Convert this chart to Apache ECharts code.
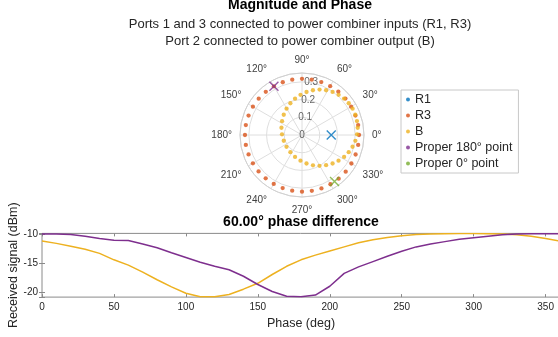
<!DOCTYPE html>
<html><head><meta charset="utf-8">
<script src="https://cdn.jsdelivr.net/npm/echarts@6.0.0/dist/echarts.min.js"></script>
<style>html,body{margin:0;padding:0;background:#fff}#c{width:558px;height:337px}</style>
</head><body><div id="c"></div>
<script>
// ---- data ----
const legendNames = ['R1', 'R3', 'B', 'Proper 180° point', 'Proper 0° point'];
const r1Point = [0.165, 0];            // [radius, angle deg]
const proper180Point = [0.317, 120];
const proper0Point = [0.32, 305];
const r3Angle = [0,10,20,30,40,50,60,70,80,90,100,110,120,130,140,150,160,170,180,190,200,210,220,230,240,250,260,270,280,290,300,310,320,330,340,350];
const r3Radius = [0.322,0.322,0.321,0.320,0.320,0.319,0.318,0.318,0.317,0.317,0.317,0.317,0.317,0.318,0.319,0.320,0.321,0.322,0.322,0.322,0.321,0.320,0.320,0.319,0.319,0.319,0.319,0.320,0.320,0.321,0.321,0.322,0.322,0.322,0.322,0.322];
const bAngle = [7.4,14.2,20.8,27.5,34.2,40.9,47.7,54.6,61.7,68.9,76.3,84.0,92.1,100.8,110.1,120.4,132.0,145.2,160.5,178.1,197.5,217.3,235.9,252.4,266.6,279.0,289.9,299.6,308.6,317.0,324.9,332.5,339.8,346.9,353.8,0.7];
const bRadius = [0.317,0.320,0.322,0.322,0.319,0.314,0.307,0.298,0.287,0.275,0.260,0.244,0.227,0.209,0.191,0.172,0.154,0.137,0.123,0.113,0.108,0.110,0.117,0.130,0.145,0.163,0.182,0.200,0.218,0.236,0.252,0.268,0.281,0.293,0.303,0.311];
const radiusTickLabels = [0, 0.1, 0.2, 0.3];

const phaseDeg = [0,10,20,30,40,50,60,70,80,90,100,110,120,130,140,150,160,170,180,190,200,210,220,230,240,250,260,270,280,290,300,310,320,330,340,350,360];
const yellowDbm = [-11.2,-11.6,-12.1,-12.6,-13.3,-14.4,-15.3,-16.5,-17.8,-19.0,-20.1,-20.7,-20.7,-20.3,-19.4,-18.4,-16.9,-15.5,-14.4,-13.6,-12.9,-12.2,-11.5,-11.0,-10.6,-10.3,-10.1,-10.0,-9.95,-9.92,-9.92,-9.95,-10.0,-10.15,-10.4,-10.75,-11.2];
const purpleDbm = [-10.0,-10.0,-10.1,-10.4,-10.75,-11.05,-11.1,-11.7,-12.35,-13.2,-14.0,-14.8,-15.5,-16.1,-17.2,-18.6,-19.8,-20.6,-20.7,-20.4,-18.9,-16.7,-15.6,-14.7,-13.8,-12.95,-12.2,-11.7,-11.3,-10.9,-10.65,-10.4,-10.15,-10.0,-9.95,-9.95,-9.95];

// ---- chart ----
const FONT = '"Liberation Sans", Arial, Helvetica, sans-serif';
const TXT = '#262626';
const GRID = '#dedede';
const AX = '#8a8a8a';
const COLORS = {R1:'#0072BD', R3:'#D95319', B:'#EDB120', P:'#7E2F8E', G:'#77AC30'};
const xPath = 'path://M0,0L10,10M10,0L0,10';

const chart = echarts.init(document.getElementById('c'), null, {renderer:'canvas'});

function xMarker(name, pt, color) {
  return {name, type:'scatter', coordinateSystem:'polar', data:[pt], symbol:xPath, symbolSize:9,
    itemStyle:{color:color, borderColor:color, borderWidth:1.4}, z:5};
}
function dots(name, radii, angles, color) {
  return {name, type:'scatter', coordinateSystem:'polar',
    data: radii.map((r,i)=>[r, angles[i]]), symbol:'circle', symbolSize:4.3,
    itemStyle:{color:color}, z:3};
}

const titleStyle = (size, bold) => ({fontSize:size, fontWeight:bold?'bold':'normal', color: bold?'#000':TXT, fontFamily:FONT});

const option = {
  animation:false,
  textStyle:{fontFamily:FONT},
  title:[
    {text:'Magnitude and Phase', left:300, top:-2, textAlign:'center', padding:0, textStyle:titleStyle(14,true)},
    {text:'Ports 1 and 3 connected to power combiner inputs (R1, R3)', left:300, top:18, textAlign:'center', padding:0, textStyle:titleStyle(13,false)},
    {text:'Port 2 connected to power combiner output (B)', left:300, top:35, textAlign:'center', padding:0, textStyle:titleStyle(13,false)},
    {text:'60.00° phase difference', left:301, top:215, textAlign:'center', padding:0, textStyle:titleStyle(14,true)}
  ],
  polar:{center:[302,135], radius:62},
  angleAxis:{type:'value', min:0, max:360, interval:30, startAngle:0, clockwise:false,
    axisLine:{show:true, lineStyle:{color:'#d0d0d0', width:1}},
    axisTick:{show:false},
    splitLine:{show:true, lineStyle:{color:GRID, width:1}},
    axisLabel:{fontSize:10, color:'#404040', margin:8, fontFamily:FONT, formatter:v => v>=360 ? '' : v + '°'}},
  radiusAxis:{type:'value', min:0, max:0.35, interval:0.1,
    axisLine:{show:false}, axisTick:{show:false}, axisLabel:{show:false},
    splitLine:{show:true, lineStyle:{color:GRID, width:1}}},
  legend:{data:legendNames, orient:'vertical', left:401, top:90, padding:[3,6,3,5], itemGap:3,
    itemWidth:4, itemHeight:4, icon:'circle', borderColor:'#c8c8c8', borderWidth:1, backgroundColor:'#fff',
    itemStyle:{borderWidth:0},
    textStyle:{fontSize:12.5, lineHeight:13, color:TXT, fontFamily:FONT}},
  grid:{left:42, top:233.4, width:518, height:63.7, outerBoundsMode:'none', containLabel:false,
    show:true, borderColor:AX, borderWidth:1, backgroundColor:'transparent'},
  xAxis:[
    {type:'value', min:0, max:360, interval:50, position:'bottom',
     axisLine:{show:false}, splitLine:{show:false},
     axisTick:{show:true, inside:true, length:3, lineStyle:{color:AX}},
     axisLabel:{fontSize:10, color:TXT, margin:5, formatter:v => (v%50===0 ? String(v) : '')},
     name:'Phase (deg)', nameLocation:'middle', nameGap:20, nameMoveOverlap:false, nameTextStyle:{fontSize:12.5, color:TXT}},
    {type:'value', min:0, max:360, interval:50, position:'top',
     axisLine:{show:false}, splitLine:{show:false},
     axisTick:{show:true, inside:true, length:3, lineStyle:{color:AX}},
     axisLabel:{show:false}}
  ],
  yAxis:[
    {type:'value', min:-20.75, max:-9.9, splitNumber:2, position:'left',
     axisLine:{show:false}, splitLine:{show:false},
     axisTick:{show:true, inside:true, length:3, lineStyle:{color:AX}},
     axisLabel:{fontSize:10, color:TXT, margin:4, formatter:v => (Math.abs(v%5) < 1e-9 ? String(v) : '')},
     name:'Received signal (dBm)', nameLocation:'middle', nameGap:22, nameMoveOverlap:false, nameTextStyle:{fontSize:12.5, color:TXT}},
    {type:'value', min:-20.75, max:-9.9, splitNumber:2, position:'right',
     axisLine:{show:false}, splitLine:{show:false},
     axisTick:{show:true, inside:true, length:3, lineStyle:{color:AX}},
     axisLabel:{show:false}}
  ],
  series:[
    {name:'rTicks', type:'scatter', coordinateSystem:'polar', silent:true, z:1,
     data: radiusTickLabels.map(r => [r, 80]), symbolSize:1, itemStyle:{color:'rgba(0,0,0,0)'},
     label:{show:true, position:'inside', fontSize:10, color:'#404040', fontFamily:FONT,
       formatter:p => String(p.value[0])}},
    xMarker('R1', r1Point, COLORS.R1),
    dots('R3', r3Radius, r3Angle, COLORS.R3),
    dots('B', bRadius, bAngle, COLORS.B),
    xMarker('Proper 180° point', proper180Point, COLORS.P),
    xMarker('Proper 0° point', proper0Point, COLORS.G),
    {name:'yellowLine', type:'line', xAxisIndex:0, yAxisIndex:0, showSymbol:false, symbol:'none',
     data: phaseDeg.map((p,i)=>[p, yellowDbm[i]]), lineStyle:{color:COLORS.B, width:1.5}, itemStyle:{color:COLORS.B}},
    {name:'purpleLine', type:'line', xAxisIndex:0, yAxisIndex:0, showSymbol:false, symbol:'none',
     data: phaseDeg.map((p,i)=>[p, purpleDbm[i]]), lineStyle:{color:COLORS.P, width:1.5}, itemStyle:{color:COLORS.P}}
  ]
};
chart.setOption(option);
</script>
</body></html>
